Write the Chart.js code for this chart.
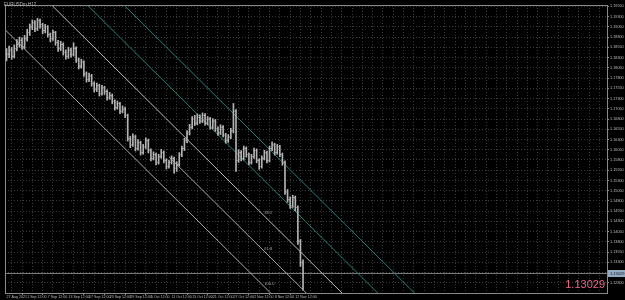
<!DOCTYPE html>
<html><head><meta charset="utf-8">
<script src="https://cdn.jsdelivr.net/npm/chart.js@4.4.1/dist/chart.umd.min.js"></script>
<style>html,body{margin:0;padding:0;background:#000;overflow:hidden}#wrap{width:625px;height:300px}</style>
</head><body><div id="wrap"><canvas id="c" width="625" height="300"></canvas></div>
<script>
const symbolTitle = 'EURUSDm,H12';
const currentPrice = 1.13029;
const opens = [
1.1830,1.1838,1.1848,1.1833,1.1852,1.1862,1.1872,1.1857,1.1876,1.1891,
1.1905,1.1915,1.1900,1.1920,1.1910,1.1896,1.1905,1.1886,1.1876,1.1891,
1.1867,1.1852,1.1862,1.1843,1.1833,1.1848,1.1838,1.1852,1.1824,1.1809,
1.1819,1.1790,1.1776,1.1785,1.1766,1.1752,1.1761,1.1742,1.1756,1.1747,
1.1732,1.1737,1.1723,1.1708,1.1718,1.1699,1.1704,1.1689,1.1632,1.1617,
1.1636,1.1608,1.1622,1.1598,1.1612,1.1627,1.1603,1.1584,1.1593,1.1574,
1.1588,1.1598,1.1579,1.1564,1.1574,1.1584,1.1560,1.1569,1.1593,1.1608,
1.1627,1.1646,1.1660,1.1680,1.1670,1.1684,1.1675,1.1689,1.1670,1.1680,
1.1660,1.1675,1.1656,1.1646,1.1660,1.1641,1.1627,1.1636,1.1651,1.1699,
1.1579,1.1598,1.1584,1.1608,1.1593,1.1574,1.1588,1.1603,1.1579,1.1564,
1.1584,1.1598,1.1579,1.1608,1.1617,1.1598,1.1612,1.1593,1.1574,1.1502,
1.1483,1.1468,1.1488,1.1464,1.1382,1.1329];
const highs = [
1.1852,1.1858,1.1855,1.1861,1.1874,1.1880,1.1878,1.1884,1.1899,1.1912,
1.1922,1.1920,1.1926,1.1924,1.1914,1.1911,1.1908,1.1890,1.1897,1.1894,
1.1872,1.1870,1.1866,1.1849,1.1855,1.1853,1.1866,1.1856,1.1829,1.1826,
1.1822,1.1795,1.1792,1.1789,1.1771,1.1768,1.1765,1.1762,1.1760,1.1751,
1.1745,1.1741,1.1727,1.1724,1.1721,1.1712,1.1709,1.1692,1.1638,1.1644,
1.1640,1.1630,1.1626,1.1618,1.1634,1.1631,1.1607,1.1600,1.1597,1.1594,
1.1606,1.1602,1.1583,1.1580,1.1590,1.1587,1.1576,1.1598,1.1614,1.1633,
1.1652,1.1667,1.1686,1.1689,1.1692,1.1690,1.1695,1.1693,1.1686,1.1684,
1.1681,1.1679,1.1661,1.1666,1.1664,1.1645,1.1642,1.1657,1.1718,1.1703,
1.1605,1.1603,1.1614,1.1612,1.1597,1.1594,1.1609,1.1607,1.1583,1.1590,
1.1604,1.1602,1.1614,1.1624,1.1621,1.1618,1.1616,1.1597,1.1578,1.1508,
1.1490,1.1494,1.1492,1.1468,1.1386,1.1336];
const lows = [
1.1822,1.1830,1.1826,1.1829,1.1846,1.1855,1.1850,1.1852,1.1870,1.1884,
1.1898,1.1893,1.1896,1.1902,1.1888,1.1890,1.1880,1.1868,1.1872,1.1860,
1.1845,1.1847,1.1836,1.1826,1.1828,1.1831,1.1834,1.1818,1.1802,1.1804,
1.1784,1.1770,1.1771,1.1760,1.1746,1.1747,1.1736,1.1738,1.1740,1.1726,
1.1728,1.1717,1.1702,1.1704,1.1693,1.1695,1.1683,1.1626,1.1610,1.1613,
1.1602,1.1604,1.1592,1.1594,1.1608,1.1597,1.1578,1.1580,1.1568,1.1570,
1.1584,1.1573,1.1558,1.1560,1.1570,1.1548,1.1552,1.1565,1.1588,1.1603,
1.1622,1.1641,1.1656,1.1664,1.1666,1.1669,1.1671,1.1665,1.1666,1.1655,
1.1656,1.1650,1.1640,1.1642,1.1636,1.1621,1.1623,1.1632,1.1646,1.1552,
1.1574,1.1578,1.1580,1.1587,1.1568,1.1570,1.1584,1.1573,1.1557,1.1560,
1.1580,1.1573,1.1575,1.1603,1.1592,1.1594,1.1588,1.1567,1.1496,1.1477,
1.1462,1.1464,1.1456,1.1374,1.1320,1.1262];
const closes = [
1.1838,1.1848,1.1833,1.1852,1.1862,1.1872,1.1857,1.1876,1.1891,1.1905,
1.1915,1.1900,1.1920,1.1910,1.1896,1.1905,1.1886,1.1876,1.1891,1.1867,
1.1852,1.1862,1.1843,1.1833,1.1848,1.1838,1.1852,1.1824,1.1809,1.1819,
1.1790,1.1776,1.1785,1.1766,1.1752,1.1761,1.1742,1.1756,1.1747,1.1732,
1.1737,1.1723,1.1708,1.1718,1.1699,1.1704,1.1689,1.1632,1.1617,1.1636,
1.1608,1.1622,1.1598,1.1612,1.1627,1.1603,1.1584,1.1593,1.1574,1.1588,
1.1598,1.1579,1.1564,1.1574,1.1584,1.1560,1.1569,1.1593,1.1608,1.1627,
1.1646,1.1660,1.1680,1.1670,1.1684,1.1675,1.1689,1.1670,1.1680,1.1660,
1.1675,1.1656,1.1646,1.1660,1.1641,1.1627,1.1636,1.1651,1.1699,1.1579,
1.1598,1.1584,1.1608,1.1593,1.1574,1.1588,1.1603,1.1579,1.1564,1.1584,
1.1598,1.1579,1.1608,1.1617,1.1598,1.1612,1.1593,1.1574,1.1502,1.1483,
1.1468,1.1488,1.1464,1.1382,1.1329,1.1303];
const xTickLabels = ['27 Aug 2021','1 Sep 12:00','7 Sep 12:00','13 Sep 12:00','17 Sep 12:00','23 Sep 12:00','29 Sep 12:00','5 Oct 12:00','11 Oct 12:00','15 Oct 12:00','21 Oct 12:00','27 Oct 12:00','2 Nov 12:00','8 Nov 12:00','12 Nov 12:00'];
const yTickValues = [1.1280,1.1305,1.1330,1.1355,1.1380,1.1405,1.1430,1.1455,1.1480,1.1505,1.1530,1.1555,1.1580,1.1605,1.1630,1.1655,1.1680,1.1705,1.1730,1.1755,1.1780,1.1805,1.1830,1.1855,1.1880,1.1905,1.1930,1.1955];
// channel lines: bar-index x and price y at two ends
const chanLowerX = [-5, 110],   chanLowerY = [1.19256, 1.1208];
const chanMidX   = [63, 120],   chanMidY   = [1.15877, 1.1232];
const chanUpperX = [10, 135],   chanUpperY = [1.20048, 1.12248];
const tealAX     = [25, 150],   tealAY     = [1.19976, 1.12176];
const tealBX     = [40, 165],   tealBY     = [1.19928, 1.12128];
const fibLabels  = ['38.2', '61.8', '100.0'];

const pts = (xs, ys) => xs.map((x, i) => ({x, y: ys[i]}));
const barCol = '#b4b4b4';
const ds = [];
ds.push({type:'bar', data: highs.map((h,i)=>({x:i, y:[lows[i], h]})), backgroundColor:barCol, borderWidth:0, barThickness:1, order:1});
ds.push({type:'scatter', data: opens.map((o,i)=>({x:i,y:o})), pointStyle:'dash', rotation:180, radius:1.1, borderColor:barCol, borderWidth:1, backgroundColor:barCol, order:0});
ds.push({type:'scatter', data: closes.map((c,i)=>({x:i,y:c})), pointStyle:'dash', rotation:0, radius:1.1, borderColor:barCol, borderWidth:1, backgroundColor:barCol, order:0});
const lineDs = (xs, ys, col) => ({type:'line', data: pts(xs, ys), borderColor: col, borderWidth: 1, pointRadius: 0, fill:false, order: 3, clip: 0});
ds.push(lineDs(chanLowerX, chanLowerY, '#a8a8a8'));
ds.push(lineDs(chanMidX, chanMidY, '#a8a8a8'));
ds.push(lineDs(chanUpperX, chanUpperY, '#bcbcbc'));
ds.push(lineDs(tealAX, tealAY, '#267f78'));
ds.push(lineDs(tealBX, tealBY, '#267f78'));
ds.push({type:'line', data: pts([-0.6, 232.9], [currentPrice, currentPrice]), borderColor:'#7a7a7a', borderWidth:1, pointRadius:0, order:4, clip:0});

const interp = (xs, ys, x) => ys[0] + (ys[1]-ys[0]) * (x - xs[0]) / (xs[1]-xs[0]);

const deco = {
  id: 'deco',
  beforeDraw(chart) {
    const c = chart.ctx; c.save(); c.fillStyle = '#000'; c.fillRect(0,0,chart.width,chart.height); c.restore();
  },
  afterDraw(chart) {
    const c = chart.ctx, a = chart.chartArea, xs = chart.scales.x, ys = chart.scales.y;
    c.save();
    c.strokeStyle = '#8a8a8a'; c.lineWidth = 1;
    c.beginPath();
    c.moveTo(a.left+0.5, a.top); c.lineTo(a.left+0.5, a.bottom+1);
    c.moveTo(a.left, a.top+0.5); c.lineTo(a.right+1, a.top+0.5);
    c.moveTo(a.right+0.5, a.top); c.lineTo(a.right+0.5, a.bottom+1);
    c.moveTo(a.left, a.bottom+0.5); c.lineTo(a.right+1, a.bottom+0.5);
    c.stroke();
    c.fillStyle = '#bdbdbd'; c.font = '4.5px "Liberation Sans"'; c.textBaseline = 'top'; c.textAlign = 'left';
    c.fillText(symbolTitle, 4, 3);
    const fx = 100;
    c.font = '4px "Liberation Sans"';
    [[chanUpperX, chanUpperY], [chanMidX, chanMidY], [chanLowerX, chanLowerY]].forEach((l, k) => {
      const px = xs.getPixelForValue(fx), py = ys.getPixelForValue(interp(l[0], l[1], fx));
      c.fillStyle = '#a8a8a8'; c.textBaseline = 'bottom'; c.fillText(fibLabels[k], px, py - 1);
    });
    const py = ys.getPixelForValue(currentPrice);
    c.fillStyle = '#93a9c0'; c.fillRect(a.right+1, py-3.5, chart.width - a.right - 1, 7);
    c.fillStyle = '#101820'; c.font = '4px "Liberation Sans"'; c.textBaseline = 'middle'; c.textAlign = 'left';
    c.fillText(currentPrice.toFixed(5), a.right + 3, py);
    c.fillStyle = '#ee6289'; c.font = '11px "Liberation Sans"'; c.textAlign = 'right'; c.textBaseline = 'alphabetic';
    c.fillText(currentPrice.toFixed(5), a.right - 2, a.bottom - 5);
    c.restore();
  }
};

new Chart(document.getElementById('c'), {
  type: 'bar',
  data: { datasets: ds },
  plugins: [deco],
  options: {
    responsive: false, animation: false, events: [], devicePixelRatio: 1,
    layout: { padding: 0 },
    plugins: { legend: {display:false}, tooltip: {enabled:false} },
    scales: {
      x: {
        type: 'linear', min: -0.6, max: 232.9, offset: false,
        afterBuildTicks(s) { const t = []; for (let v = 0; v <= 232; v += 4) t.push({value: v}); s.ticks = t; },
        afterFit(s) { s.height = 7; },
        ticks: { autoSkip:false, maxRotation:0, minRotation:0, align:'start', padding:0, color:'#bdbdbd',
          font:{size:3.6, family:'Liberation Sans'},
          callback(v) { const k = v / 8; return (Number.isInteger(k) && k < xTickLabels.length) ? xTickLabels[k] : ''; } },
        grid: { color:'#3a3a3a', lineWidth:1, drawTicks:true, tickLength:2,
          tickColor: (ctx) => (ctx.tick && ctx.tick.value % 8 === 0 && ctx.tick.value / 8 < xTickLabels.length) ? '#8a8a8a' : 'rgba(0,0,0,0)' },
        border: { display:false, dash:[1,2] }
      },
      y: {
        type: 'linear', position: 'right', min: 1.12553, max: 1.19583,
        afterBuildTicks(s) { s.ticks = yTickValues.map(v => ({value: v})); },
        afterFit(s) { s.width = 18; },
        ticks: { padding:1, color:'#bdbdbd', font:{size:3.8, family:'Liberation Sans'}, callback(v) { return v.toFixed(5); } },
        grid: { color:'#3a3a3a', lineWidth:1, drawTicks:true, tickLength:2, tickColor:'#8a8a8a' },
        border: { display:false, dash:[1,2] }
      }
    }
  }
});
</script></body></html>
